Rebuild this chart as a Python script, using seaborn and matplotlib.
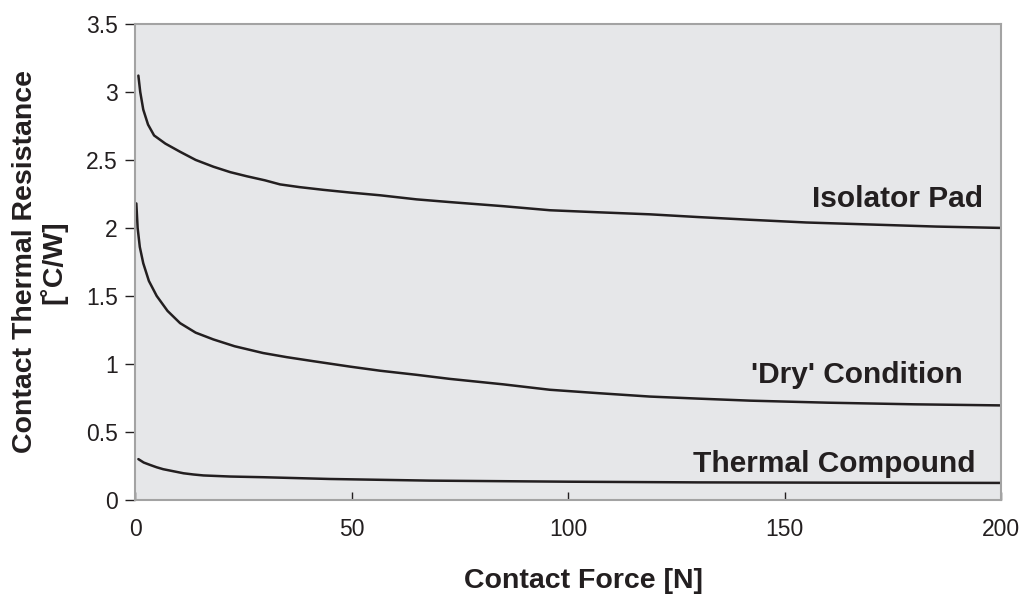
import pandas as pd
import matplotlib.pyplot as plt
import seaborn as sns
from matplotlib.ticker import FuncFormatter

# --- data ---
iso_force = [0.77, 1.2, 1.9, 3.0, 4.4, 7, 10.4, 14, 18.1, 22, 25.8, 30, 33.5, 38, 43.5,
             49.7, 56.6, 65, 72.7, 85, 95.8, 107, 118.9, 130, 142, 155, 170, 185, 200]
iso_res = [3.12, 3.0, 2.87, 2.76, 2.68, 2.62, 2.56, 2.50, 2.45, 2.41, 2.38, 2.35, 2.32, 2.30, 2.28,
           2.26, 2.24, 2.21, 2.19, 2.16, 2.13, 2.115, 2.10, 2.08, 2.06, 2.04, 2.025, 2.01, 2.0]

dry_force = [0.3, 0.6, 1.1, 1.9, 3.2, 5.0, 7.5, 10.4, 14, 18.1, 23, 29.6, 35, 41.2, 49.7,
             56.6, 65, 72.7, 85, 95.8, 107, 118.9, 130, 142, 160, 180, 200]
dry_res = [2.18, 2.0, 1.86, 1.74, 1.61, 1.50, 1.39, 1.30, 1.23, 1.18, 1.13, 1.08, 1.05, 1.02, 0.98,
           0.95, 0.92, 0.89, 0.85, 0.81, 0.785, 0.76, 0.745, 0.73, 0.715, 0.703, 0.695]

tc_force = [0.77, 2, 3.5, 5, 6.5, 9, 11.2, 13.5, 15.8, 22, 29.6, 45, 68, 100, 130, 160, 200]
tc_res = [0.30, 0.275, 0.257, 0.24, 0.226, 0.21, 0.196, 0.187, 0.18, 0.172, 0.167, 0.154, 0.142,
          0.134, 0.129, 0.127, 0.125]

series_names = ["Isolator Pad", "'Dry' Condition", "Thermal Compound"]
series_data = [(iso_force, iso_res), (dry_force, dry_res), (tc_force, tc_res)]
label_x = [195.8, 191.2, 194.0]
label_y = [2.157, 0.858, 0.208]

sns.set_theme(style="white")
plt.rcParams['font.family'] = ['Liberation Sans', 'DejaVu Sans']

fig = plt.figure(figsize=(10.23, 5.98), dpi=100)
ax = fig.add_axes([0.132, 0.164, 0.8465, 0.796])
ax.set_facecolor('#e6e7e9')

ink = '#231f20'
for name, (fx, fy), lx, ly in zip(series_names, series_data, label_x, label_y):
    df = pd.DataFrame({'Force': fx, 'Resistance': fy})
    sns.lineplot(ax=ax, data=df, x='Force', y='Resistance', color=ink, linewidth=1.8)
    ax.text(lx, ly, name, ha='right', va='baseline', fontsize=21.5, fontweight='bold', color=ink)

ax.set_xlim(0, 200)
ax.set_ylim(0, 3.5)
ax.set_xticks([0, 50, 100, 150, 200])
ax.set_yticks([0, 0.5, 1, 1.5, 2, 2.5, 3, 3.5])
ax.yaxis.set_major_formatter(FuncFormatter(lambda v, p: f"{v:g}"))

for s in ax.spines.values():
    s.set_color('#a3a3a3')
    s.set_linewidth(1.5)

ax.tick_params(axis='y', direction='out', length=7.5, width=1, color=ink,
               labelsize=16.5, pad=5, labelcolor=ink, left=True)
ax.tick_params(axis='x', direction='in', length=6, width=1, color=ink,
               labelsize=16.5, pad=13, labelcolor=ink, bottom=True)

ax.set_xlabel('Contact Force [N]', fontsize=20.5, fontweight='bold', color=ink)
ax.set_ylabel('Contact Thermal Resistance\n[˚C/W]', fontsize=20.5, fontweight='bold',
              color=ink, linespacing=1.05)
ax.xaxis.set_label_coords(0.518, -0.143)
ax.yaxis.set_label_coords(-0.078, 0.5)

plt.savefig('out.png', dpi=100)
